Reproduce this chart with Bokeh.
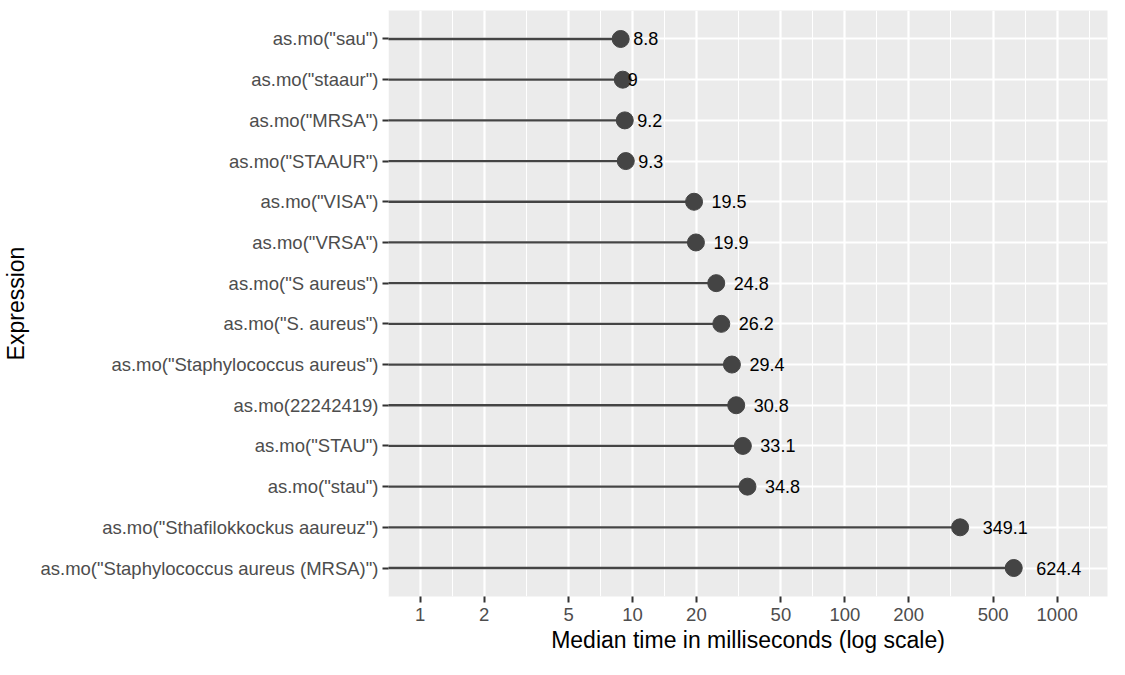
from bokeh.plotting import figure
from bokeh.models import FactorRange, Range1d, FixedTicker, ColumnDataSource, PrintfTickFormatter
from bokeh.core.properties import value
from bokeh.embed import file_html
from bokeh.resources import INLINE
import math

expressions = [
    'as.mo("sau")',
    'as.mo("staaur")',
    'as.mo("MRSA")',
    'as.mo("STAAUR")',
    'as.mo("VISA")',
    'as.mo("VRSA")',
    'as.mo("S aureus")',
    'as.mo("S. aureus")',
    'as.mo("Staphylococcus aureus")',
    'as.mo(22242419)',
    'as.mo("STAU")',
    'as.mo("stau")',
    'as.mo("Sthafilokkockus aaureuz")',
    'as.mo("Staphylococcus aureus (MRSA)")',
]
median_ms = [8.8, 9.0, 9.2, 9.3, 19.5, 19.9, 24.8, 26.2, 29.4, 30.8, 33.1, 34.8, 349.1, 624.4]
x_ticks = [1, 2, 5, 10, 20, 50, 100, 200, 500, 1000]

FONT = "Liberation Sans"
LABEL_PX = 18
CHAR_EM = {".": 0.278}

labels = [f"{v:g}" for v in median_ms]
# hjust = -0.5 : shift text right by half its width
offsets = [0.5 * LABEL_PX * sum(CHAR_EM.get(c, 0.556) for c in s) for s in labels]

src = ColumnDataSource(dict(expr=expressions, val=median_ms, lab=labels, off=offsets,
                            x0=[0.1] * len(expressions)))

x_start, x_end = 0.7098, 1726
# minor breaks at geometric midpoints between major breaks (ggplot style)
ext = [0.5] + x_ticks + [2000]
minor = [math.sqrt(a * b) for a, b in zip(ext[:-1], ext[1:])]

p = figure(width=1109, height=659, x_axis_type="log",
           x_range=Range1d(x_start, x_end),
           y_range=FactorRange(factors=list(reversed(expressions)),
                               range_padding=0.2, range_padding_units="absolute"),
           output_backend="svg", toolbar_location=None,
           min_border_left=383, min_border_right=2, min_border_top=10, min_border_bottom=63)

p.background_fill_color = "#EBEBEB"
p.border_fill_color = "white"
p.outline_line_color = None

p.segment(x0="x0", y0="expr", x1="val", y1="expr", source=src, line_color="#444444", line_width=2.3)
p.scatter(x="val", y="expr", source=src, size=17, fill_color="#444444", line_color="#444444")
p.text(x="val", y="expr", text="lab", source=src, x_offset="off", text_align="left",
       text_baseline="middle", text_font=value(FONT), text_font_size=f"{LABEL_PX}px",
       text_color="black")

p.xaxis.ticker = FixedTicker(ticks=x_ticks, minor_ticks=minor)
p.xaxis.formatter = PrintfTickFormatter(format="%d")
p.xgrid.grid_line_color = "white"
p.xgrid.grid_line_width = 2.2
p.xgrid.minor_grid_line_color = "white"
p.xgrid.minor_grid_line_width = 1.1
p.ygrid.grid_line_color = "white"
p.ygrid.grid_line_width = 2.2

for ax in (p.xaxis, p.yaxis):
    ax.axis_line_color = None
    ax.major_tick_line_color = "#333333"
    ax.major_tick_line_width = 2
    ax.major_tick_out = 6
    ax.major_tick_in = 0
    ax.minor_tick_line_color = None
    ax.major_label_text_font = FONT
    ax.major_label_text_font_size = "18.5px"
    ax.major_label_text_color = "#4D4D4D"
    ax.axis_label_text_font = FONT
    ax.axis_label_text_font_size = "23px"
    ax.axis_label_text_font_style = "normal"
    ax.axis_label_text_color = "black"

p.xaxis.axis_label = "Median time in milliseconds (log scale)"
p.yaxis.axis_label = "Expression"
p.xaxis.major_label_standoff = 5
p.xaxis.axis_label_standoff = 3
p.yaxis.major_label_standoff = 4
p.yaxis.axis_label_standoff = 8

open("out.html", "w").write(file_html(p, INLINE))
